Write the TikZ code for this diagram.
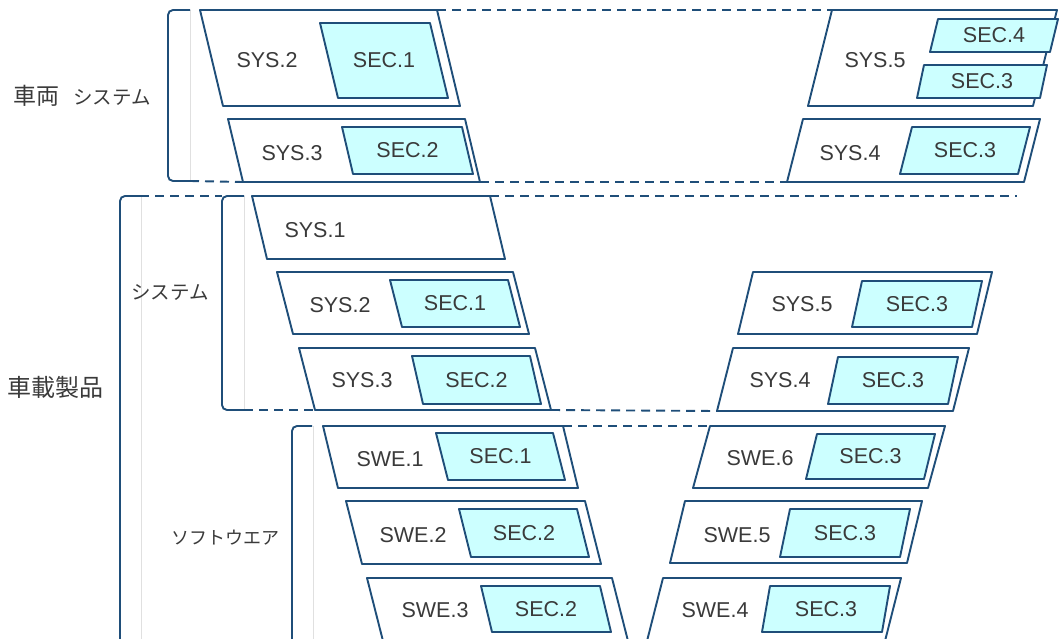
\documentclass[tikz,border=0pt]{standalone}
\usepackage{fontspec}
\setmainfont{Liberation Sans}
\newfontfamily\jpfont{Noto Sans CJK JP}
\usetikzlibrary{positioning}

\definecolor{navy}{HTML}{1F4E79}
\definecolor{seccyan}{HTML}{CCFFFF}
\definecolor{txtgray}{HTML}{3A3A3A}

% slanted box: name, style, x top-left, y top, width, height, bottom shift, text
\newcommand{\slbox}[8]{%
  \draw[#2] (#3,#4) coordinate (#1-tl) -- ++(#5,0) coordinate (#1-tr)
    -- ++(#7,#6) coordinate (#1-br) -- ++(-#5,0) coordinate (#1-bl) -- cycle;
  \node[lbl] (#1) at ({#3+0.5*#5+0.5*#7},{#4+0.5*#6}) {#8};
}

\begin{document}
\begin{tikzpicture}[
        x = 1pt, y = -1pt,
        outer/.style = {draw=navy, line width=1.9pt, fill=white, line join=round},
        sec/.style = {draw=navy, line width=1.9pt, fill=seccyan, line join=round},
        lbl/.style = {text=txtgray, font=\fontsize{21.5}{24}\selectfont, inner sep=0pt},
        grp/.style = {text=txtgray, font=\jpfont\fontsize{#1}{#1}\selectfont, inner sep=0pt},
        grp/.default = 19.5,
        brace/.style = {draw=navy, line width=1.9pt, rounded corners=5pt},
        guide/.style = {draw=navy, line width=1.9pt, dash pattern=on 9pt off 6pt},
        rule/.style = {draw=black!12, line width=0.8pt}
        ]
        \useasboundingbox (0,0) rectangle (1062,639);
        \clip (0,0) rectangle (1062,639);
%
% 車両 システム
        \node[grp] (veh) at (82,96) {{\fontsize{23}{23}\selectfont 車両}\hspace{14pt}システム};
        \draw[rule] (190,10) -- (190,181);
        \draw[brace] (190,10) -- (168,10) -- (168,181) -- (190,181) coordinate (vbe);
%
        \slbox{v2}{outer}{200}{10}{237}{96}{23}{}
        \slbox{v2s}{sec}{320}{23}{110}{75}{18}{SEC.1}
        \node[lbl] (v2l) at (267,60) {SYS.2};
%
        \slbox{v3}{outer}{228}{119}{237}{63}{15}{}
        \slbox{v3s}{sec}{342}{127}{120}{47}{11}{SEC.2}
        \node[lbl] (v3l) at (292,153) {SYS.3};
%
        \slbox{v5}{outer}{832}{10}{225}{96}{-24}{}
        \slbox{v5a}{sec}{938}{19}{120}{33}{-8}{SEC.4}
        \slbox{v5b}{sec}{924}{65}{123}{33}{-7}{SEC.3}
        \node[lbl] (v5l) at (875,60) {SYS.5};
%
        \slbox{v4}{outer}{803}{119}{237}{63}{-16}{}
        \slbox{v4s}{sec}{912}{127}{118}{47}{-12}{SEC.3}
        \node[lbl] (v4l) at (850,153) {SYS.4};
%
        \draw[guide] (v2-tr) -- (v5-tl);
        \draw[guide] (vbe) -- (v3-bl);
        \draw[guide] (v3-br) -- (v4-bl);
%
% 車載製品
        \node[grp=24] (prod) at (56,387) {車載製品};
        \draw[rule] (141,196) -- (141,639);
        \draw[brace] (140,196) coordinate (cbt) -- (120,196) -- (120,660);
%
% システム
        \node[grp] (sys) at (170,292) {システム};
        \draw[rule] (244,196) -- (244,410);
        \draw[brace] (244,196) -- (222,196) coordinate (sbk) -- (222,410) -- (244,410) coordinate (sbe);
%
        \slbox{s1}{outer}{252}{196}{238}{63}{15}{}
        \node[lbl] (s1l) at (315,230) {SYS.1};
%
        \slbox{s2}{outer}{277}{272}{236}{62}{16}{}
        \slbox{s2s}{sec}{390}{280}{118}{47}{12}{SEC.1}
        \node[lbl] (s2l) at (340,305) {SYS.2};
%
        \slbox{s3}{outer}{299}{348}{236}{62}{16}{}
        \slbox{s3s}{sec}{412}{356}{118}{48}{11}{SEC.2}
        \node[lbl] (s3l) at (362,380) {SYS.3};
%
        \slbox{s5}{outer}{753}{272}{239}{62}{-15}{}
        \slbox{s5s}{sec}{862}{281}{120}{46}{-10}{SEC.3}
        \node[lbl] (s5l) at (802,304) {SYS.5};
%
        \slbox{s4}{outer}{733}{348}{236}{63}{-16}{}
        \slbox{s4s}{sec}{838}{357}{120}{47}{-10}{SEC.3}
        \node[lbl] (s4l) at (780,380) {SYS.4};
%
        \coordinate (mend) at (1017,196);
        \draw[guide] (cbt) -- (sbk);
        \draw[guide] (s1-tr) -- (mend);
        \draw[guide] (sbe) -- (s3-bl);
        \draw[guide] (s3-br) -- (s4-bl);
%
% ソフトウエア
        \node[grp=18] (sw) at (225,538) {ソフトウエア};
        \draw[rule] (313,426) -- (313,639);
        \draw[brace] (312,426) -- (292,426) -- (292,660);
%
        \slbox{w1}{outer}{323}{426}{240}{62}{15}{}
        \slbox{w1s}{sec}{436}{433}{117}{47}{12}{SEC.1}
        \node[lbl] (w1l) at (390,459) {SWE.1};
%
        \slbox{w2}{outer}{346}{501}{239}{63}{16}{}
        \slbox{w2s}{sec}{459}{509}{118}{48}{12}{SEC.2}
        \node[lbl] (w2l) at (413,535) {SWE.2};
%
        \slbox{w3}{outer}{367}{578}{245}{63}{16}{}
        \slbox{w3s}{sec}{481}{586}{119}{46}{11}{SEC.2}
        \node[lbl] (w3l) at (435,610) {SWE.3};
%
        \slbox{w6}{outer}{710}{426}{235}{62}{-17}{}
        \slbox{w6s}{sec}{817}{434}{118}{45}{-11}{SEC.3}
        \node[lbl] (w6l) at (760,458) {SWE.6};
%
        \slbox{w5}{outer}{685}{501}{237}{62}{-15}{}
        \slbox{w5s}{sec}{790}{509}{120}{48}{-10}{SEC.3}
        \node[lbl] (w5l) at (737,535) {SWE.5};
%
        \slbox{w4}{outer}{663}{578}{238}{63}{-16}{}
        \slbox{w4s}{sec}{770}{586}{120}{46}{-8}{SEC.3}
        \node[lbl] (w4l) at (715,610) {SWE.4};
%
        \draw[guide] (w1-tr) -- (w6-tl);
\end{tikzpicture}
\end{document}
